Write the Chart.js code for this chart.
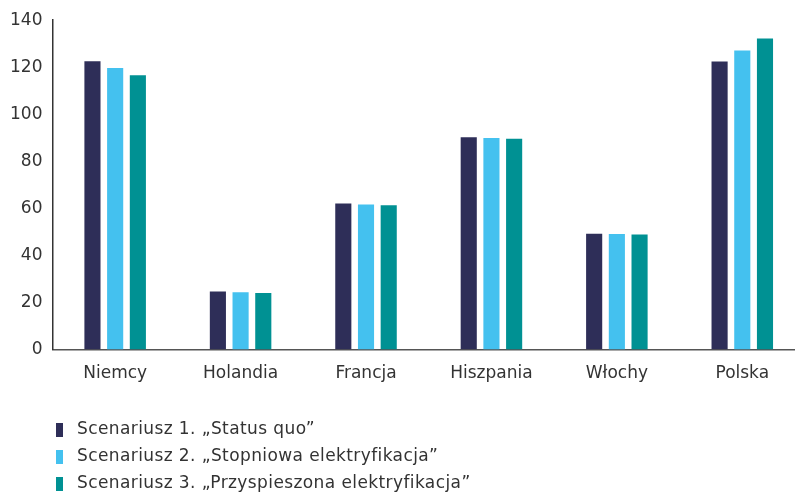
<!DOCTYPE html>
<html>
<head>
<meta charset="utf-8">
<script src="https://cdn.jsdelivr.net/npm/chart.js@4"></script>
<style>
  html, body { margin: 0; padding: 0; background: #fff; overflow: hidden; }
  #wrap { width: 805px; height: 493px; }
</style>
</head>
<body>
<div id="wrap"><canvas id="chart"></canvas></div>
<script>
const countries = ['Niemcy', 'Holandia', 'Francja', 'Hiszpania', 'Włochy', 'Polska'];
const scenario1 = [122.6, 24.7, 62.1, 90.2, 49.2, 122.4];
const scenario2 = [119.7, 24.4, 61.7, 89.9, 49.1, 127.1];
const scenario3 = [116.6, 24.1, 61.3, 89.6, 48.9, 132.2];
const seriesNames = [
  'Scenariusz 1. „Status quo”',
  'Scenariusz 2. „Stopniowa elektryfikacja”',
  'Scenariusz 3. „Przyspieszona elektryfikacja”'
];
const colors = ['#2e2e58', '#44c1ef', '#009193'];

const FONT = '"DejaVu Sans", sans-serif';

// legend drawn by hand, stacked vertically under the chart
const stackedLegend = {
  id: 'stackedLegend',
  afterDraw(chart) {
    const ctx = chart.ctx;
    ctx.save();
    ctx.font = '17px ' + FONT;
    ctx.letterSpacing = '0.4px';
    ctx.textBaseline = 'middle';
    chart.data.datasets.forEach((ds, i) => {
      const y = 430 + i * 27;
      ctx.fillStyle = ds.backgroundColor;
      ctx.fillRect(56, y - 7, 7, 14);
      ctx.fillStyle = '#333';
      ctx.fillText(ds.label, 77, y);
    });
    ctx.restore();
  }
};

new Chart(document.getElementById('chart'), {
  type: 'bar',
  data: {
    labels: countries,
    datasets: [scenario1, scenario2, scenario3].map((d, i) => ({
      label: seriesNames[i],
      data: d,
      backgroundColor: colors[i],
      barPercentage: 0.71,
      categoryPercentage: 0.543
    }))
  },
  options: {
    responsive: true,
    maintainAspectRatio: false,
    animation: false,
    layout: { padding: { top: 13, left: 0, right: 0, bottom: 95 } },
    plugins: {
      legend: { display: false },
      tooltip: { enabled: false }
    },
    scales: {
      x: {
        grid: { display: false, drawTicks: false },
        border: { color: '#555', width: 1.5 },
        ticks: { color: '#333', font: { family: FONT, size: 17 }, padding: 14 }
      },
      y: {
        min: 0,
        max: 140,
        grid: { display: false, drawTicks: false },
        border: { color: '#333', width: 1.5 },
        ticks: { stepSize: 20, color: '#333', font: { family: FONT, size: 17 }, padding: 10 }
      }
    }
  },
  plugins: [stackedLegend]
});
</script>
</body>
</html>
